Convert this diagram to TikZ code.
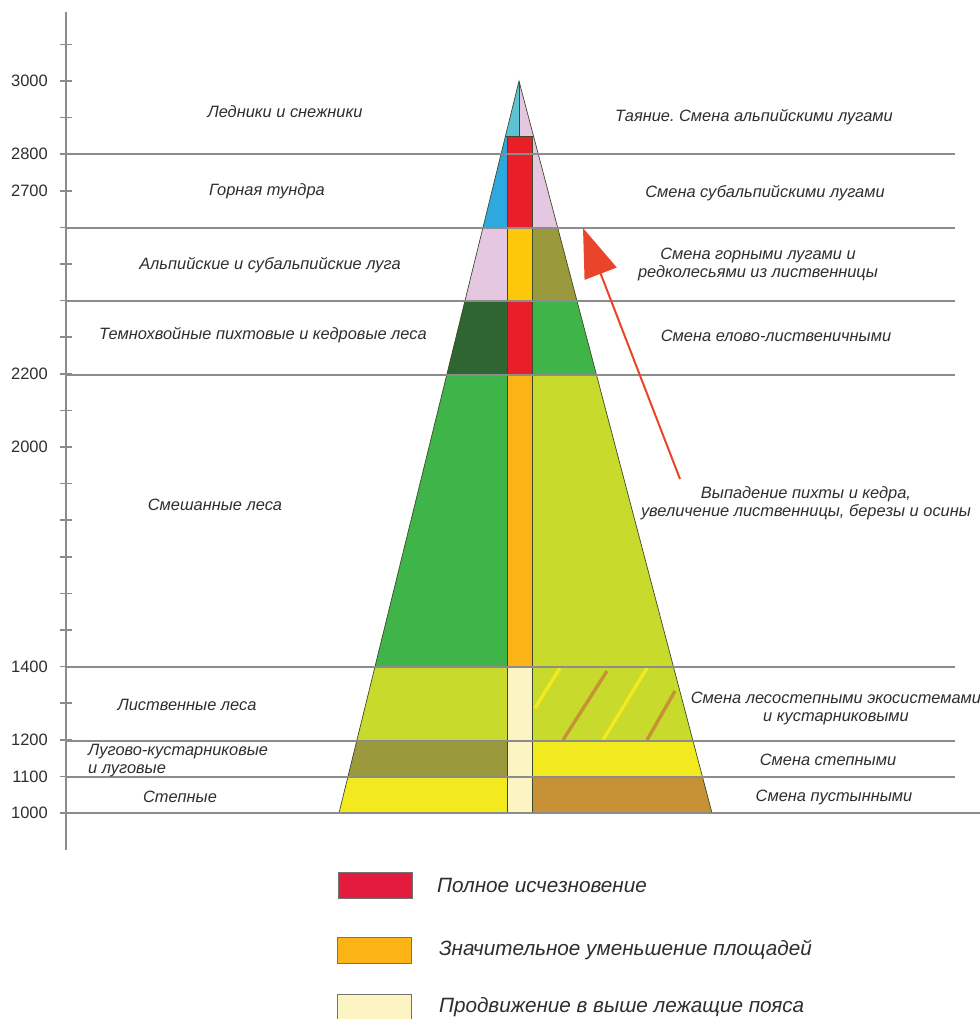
\documentclass[tikz,border=0pt]{standalone}
\usepackage{fontspec}
\setmainfont{Liberation Sans}
\usetikzlibrary{arrows.meta,positioning,calc}
\frenchspacing
\definecolor{TextGray}{HTML}{2E2E2E}
\definecolor{RuleGray}{HTML}{8C8C8C}
\definecolor{CellEdge}{HTML}{3F4A2A}
\definecolor{IceCyan}{HTML}{5CC3D5}
\definecolor{TundraBlue}{HTML}{2EA9E0}
\definecolor{MeadowPink}{HTML}{E6C7E1}
\definecolor{VanishRed}{HTML}{E81F28}
\definecolor{ShrinkGold}{HTML}{FDC80A}
\definecolor{ShrinkOrange}{HTML}{FBB316}
\definecolor{RiseCream}{HTML}{FCF4C2}
\definecolor{ShrubOlive}{HTML}{9A993B}
\definecolor{FirGreen}{HTML}{2F6530}
\definecolor{ForestGreen}{HTML}{3FB449}
\definecolor{LeafLime}{HTML}{C8DA2B}
\definecolor{SteppeYellow}{HTML}{F3E91F}
\definecolor{DesertBrown}{HTML}{C79235}
\definecolor{ArrowRed}{HTML}{E9452A}
\definecolor{LegendRed}{HTML}{E31C3E}

\begin{document}
\begin{tikzpicture}[x=1bp,y=-1bp,
  node distance=24bp,
  zone/.style={font=\fontsize{16.4bp}{18bp}\selectfont\itshape,text=TextGray,align=center,inner sep=0pt},
  altnum/.style={font=\fontsize{16.5bp}{18bp}\selectfont,text=TextGray,anchor=east,inner sep=0pt},
  rule/.style={draw=RuleGray,line width=1.6bp},
  cell/.style={draw=CellEdge,line width=0.7bp},
  hatch/.style={line width=3.4bp},
  legbox/.style={draw=black!55,line width=0.8bp,minimum width=74bp,minimum height=26bp,inner sep=0pt},
  legtext/.style={font=\fontsize{20.7bp}{24bp}\selectfont\itshape,text=TextGray,inner sep=0pt},
  arr/.style={-{Triangle[length=49bp,width=34bp]},line width=2bp,draw=ArrowRed}
]
\useasboundingbox (0,0) rectangle (980,1019);
\draw[RuleGray,line width=2bp] (66,12) -- (66,850);
\foreach \h in {1000,1100,...,3100}
  \draw[RuleGray,line width=1.6bp] (60,{813-0.366*(\h-1000)}) -- ++(12,0);
\foreach \h in {3000,2800,2700,2200,2000,1400,1200,1100,1000}
  \node[altnum] (a\h) at (48,{813-0.366*(\h-1000)}) {\h};

\coordinate (apex) at (519,81);
\coordinate (bl) at (339,813);
\coordinate (br) at (712,813);
\begin{scope}
  \clip (apex) -- (bl) -- (br) -- cycle;
  \filldraw[cell,fill=IceCyan] (440,70) rectangle (519,136);
  \filldraw[cell,fill=MeadowPink] (519,70) rectangle (600,136);
  \foreach \ya/\yb/\cl/\cc/\cr in {136/228/TundraBlue/VanishRed/MeadowPink,
      228/301/MeadowPink/ShrinkGold/ShrubOlive,
      301/375/FirGreen/VanishRed/ForestGreen,
      375/667/ForestGreen/ShrinkOrange/LeafLime,
      667/741/LeafLime/RiseCream/LeafLime,
      741/777/ShrubOlive/RiseCream/SteppeYellow,
      777/813/SteppeYellow/RiseCream/DesertBrown}
  {
    \filldraw[cell,fill=\cl] (320,\ya) rectangle (507,\yb);
    \filldraw[cell,fill=\cc] (507,\ya) rectangle (532,\yb);
    \filldraw[cell,fill=\cr] (532,\ya) rectangle (730,\yb);
  }
  \draw[hatch,SteppeYellow] (560,668) -- (535,708);
  \draw[hatch,DesertBrown] (607,671) -- (563,740);
  \draw[hatch,SteppeYellow] (647,668) -- (603,740);
  \draw[hatch,DesertBrown] (675,691) -- (647,740);
\end{scope}
\draw[cell] (apex) -- (bl) -- (br) -- cycle;

\foreach \y in {154,228,301,375,667,741,777}
  \draw[rule] (66,\y) -- (955,\y);
\draw[rule] (66,813) -- (980,813);

\node[zone] (glacier) at (285,112) {Ледники и снежники};
\node[zone] (tundra) at (267,191) {Горная тундра};
\node[zone] (alpine) at (270,265) {Альпийские и субальпийские луга};
\node[zone] (taiga) at (263,335) {Темнохвойные пихтовые и кедровые леса};
\node[zone] (mixed) at (215,505) {Смешанные леса};
\node[zone] (decid) at (187,705) {Лиственные леса};
\node[zone,align=left,anchor=west] (shrub) at (88,761) {Лугово-кустарниковые\\и луговые};
\node[zone] (steppe) at (180,797) {Степные};

\node[zone] (melt) at (754,117) {Таяние. Смена альпийскими лугами};
\node[zone] (subalp) at (765,193) {Смена субальпийскими лугами};
\node[zone] (mount) at (758,264) {Смена горными лугами и\\редколесьями из лиственницы};
\node[zone] (spruce) at (776,336) {Смена елово-лиственичными};
\node[zone] (loss) at (806,503) {Выпадение пихты и кедра,\\увеличение лиственницы, березы и осины};
\node[zone] (fsteppe) at (836,708) {Смена лесостепными экосистемами\\и кустарниковыми};
\node[zone] (tosteppe) at (828,760) {Смена степными};
\node[zone] (desert) at (834,797) {Смена пустынными};

\coordinate (tail) at (680,479);
\coordinate (tip) at (583,228);
\draw[arr] (tail) -- (tip);

\node[legbox,fill=LegendRed,anchor=north west] (kvanish) at (338,872) {};
\node[legbox,fill=ShrinkOrange,anchor=north west] (kshrink) at (337,937) {};
\node[legbox,fill=RiseCream,anchor=north west] (krise) at (337,994) {};
\node[legtext,right=of kvanish] (tvanish) {Полное исчезновение};
\node[legtext,right=27bp of kshrink] (tshrink) {Значительное уменьшение площадей};
\node[legtext,right=27bp of krise] (trise) {Продвижение в выше лежащие пояса};
\end{tikzpicture}
\end{document}
